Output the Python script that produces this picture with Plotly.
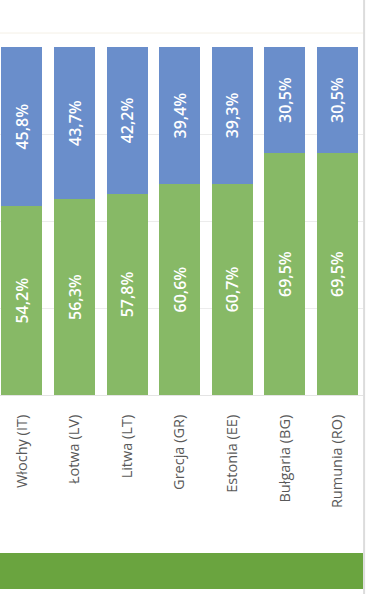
import plotly.graph_objects as go

categories = ["Włochy (IT)", "Łotwa (LV)", "Litwa (LT)", "Grecja (GR)", "Estonia (EE)", "Bułgaria (BG)", "Rumunia (RO)"]
green_values = [54.2, 56.3, 57.8, 60.6, 60.7, 69.5, 69.5]
blue_values = [45.8, 43.7, 42.2, 39.4, 39.3, 30.5, 30.5]

GREEN = "#87b966"
BLUE = "#6a8ecb"
FONT = "Open Sans"

fig = go.Figure()
for vals, col in ((green_values, GREEN), (blue_values, BLUE)):
    fig.add_trace(go.Bar(
        x=categories, y=vals, marker_color=col, marker_line_width=0,
        texttemplate="%{y:.1f}%", textposition="inside", insidetextanchor="middle",
        textangle=-90, textfont=dict(family=FONT, size=16, color="white", weight=600),
        showlegend=False,
    ))

W, H = 367, 594
top, bottom_px = 47, 395
fig.update_layout(
    width=W, height=H,
    margin=dict(l=0, r=W - 363, t=top, b=H - bottom_px, pad=0),
    barmode="stack", bargap=0.22,
    separators=",.",
    paper_bgcolor="white", plot_bgcolor="white",
    font=dict(family=FONT),
)
fig.update_xaxes(
    range=[-0.418, 6.485], showgrid=False, zeroline=False,
    tickangle=-90, tickfont=dict(family=FONT, size=14.5, color="#595959"),
    showline=True, linecolor="#e4e4e4", linewidth=1,
    ticks="", ticklabelstandoff=13,
)
fig.update_yaxes(
    range=[0, 100], dtick=25, showgrid=True, gridcolor="#ececec", gridwidth=1,
    zeroline=False, showticklabels=False,
)

ph = bottom_px - top
def py(y):
    return (bottom_px - y) / ph

fig.add_shape(type="rect", xref="paper", yref="paper", x0=0, x1=1,
              y0=py(589), y1=py(553), fillcolor="#6aa43f", line_width=0, layer="above")
fig.add_shape(type="line", xref="paper", yref="paper", x0=1.003, x1=1.003,
              y0=py(594), y1=py(0), line=dict(color="#dcdcdc", width=2))
fig.add_shape(type="line", xref="paper", yref="paper", x0=0, x1=1,
              y0=py(33), y1=py(33), line=dict(color="#f4f0e6", width=1))

fig.write_html("out.html", config={"displayModeBar": False},
               post_script="document.body.style.margin='0';document.body.style.padding='0';")
